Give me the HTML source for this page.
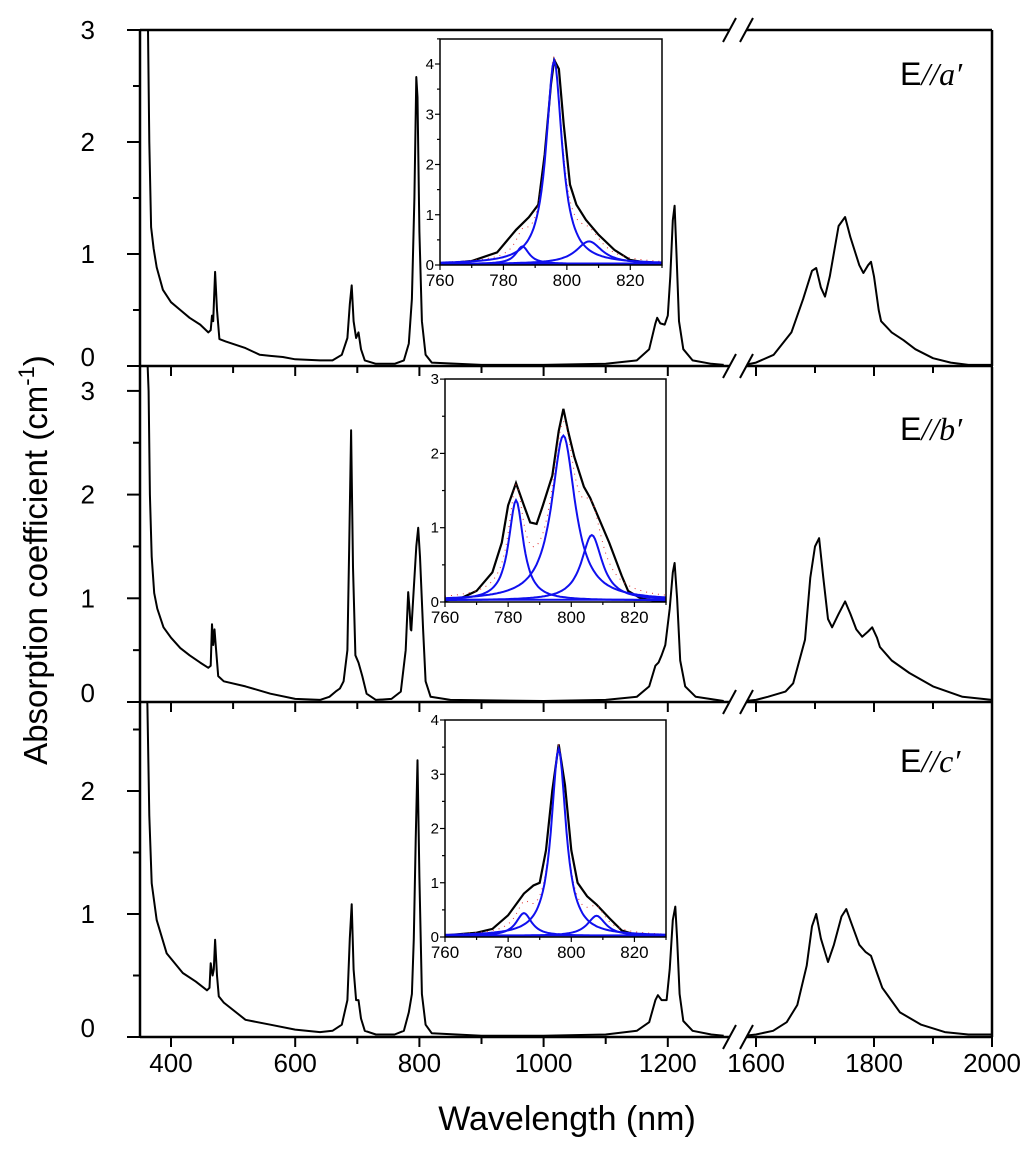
<!DOCTYPE html>
<html><head><meta charset="utf-8"><style>
html,body{margin:0;padding:0;background:#fff;}
svg{display:block;font-family:"Liberation Sans",Arial,sans-serif;}
</style></head><body>
<svg id="chart" width="1024" height="1151" viewBox="0 0 1024 1151" xmlns="http://www.w3.org/2000/svg"></svg>
<script>
// ---------- data ----------
const xTickLabelsLeft = [400, 600, 800, 1000, 1200];
const xTickLabelsRight = [1600, 1800, 2000];
const panelLabels = ["a′", "b′", "c′"];
const yMax = [3, 3.23, 2.72];
const yTickLabels = [[0,1,2,3],[0,1,2,3],[0,1,2]];

// Panel A (E//a')
const wlA = [356,360,363,365,368,372,377,387,400,415,430,447,460,464,466,468,471,474,478,488,520,543,560,580,600,640,660,675,684,688,691,694,698,702,706,712,730,760,775,783,788,792,795,797,800,804,810,820,900,1000,1100,1150,1170,1180,1183,1188,1195,1200,1204,1208,1211,1214,1218,1225,1240,1270,1290];
const absA = [3.5,3.2,3.0,2.0,1.24,1.05,0.88,0.68,0.57,0.5,0.43,0.37,0.3,0.32,0.45,0.4,0.84,0.5,0.24,0.22,0.16,0.1,0.09,0.08,0.06,0.05,0.05,0.1,0.25,0.55,0.72,0.4,0.25,0.3,0.15,0.05,0.02,0.02,0.05,0.2,0.6,1.5,2.58,2.4,1.2,0.4,0.1,0.03,0.01,0.01,0.02,0.05,0.15,0.38,0.43,0.38,0.37,0.45,0.8,1.3,1.43,1.0,0.4,0.15,0.05,0.02,0.01];
const wlA2 = [1581,1600,1630,1660,1680,1695,1702,1710,1717,1725,1740,1751,1760,1775,1782,1790,1795,1800,1808,1812,1830,1850,1870,1900,1930,1960,2000];
const absA2 = [0.01,0.03,0.1,0.3,0.6,0.85,0.875,0.7,0.62,0.8,1.25,1.33,1.15,0.9,0.83,0.9,0.93,0.8,0.5,0.4,0.3,0.23,0.15,0.07,0.03,0.01,0.01];

// Panel B (E//b')
const wlB = [358,362,364,366,369,373,378,388,400,415,430,447,460,464,466,468,470,472,476,485,520,560,600,640,655,665,672,678,684,687,690,693,697,702,708,715,730,755,770,778,782,784,786,787,790,795,798,801,806,810,818,850,1000,1100,1150,1170,1180,1185,1190,1196,1203,1208,1211,1215,1220,1228,1245,1290];
const absB = [3.6,3.3,3.0,2.0,1.4,1.05,0.9,0.72,0.62,0.52,0.45,0.38,0.33,0.35,0.75,0.55,0.7,0.55,0.25,0.2,0.15,0.08,0.03,0.02,0.05,0.1,0.13,0.2,0.5,1.5,2.62,1.3,0.45,0.38,0.25,0.08,0.02,0.03,0.1,0.5,1.06,0.9,0.7,0.69,1.0,1.5,1.68,1.4,0.7,0.2,0.05,0.02,0.01,0.02,0.05,0.15,0.35,0.38,0.45,0.55,0.9,1.25,1.34,1.0,0.4,0.15,0.05,0.01];
const wlB2 = [1581,1600,1620,1650,1663,1683,1692,1700,1707,1714,1722,1729,1740,1751,1760,1770,1780,1790,1797,1805,1810,1830,1860,1900,1950,2000];
const absB2 = [0.01,0.02,0.05,0.1,0.18,0.6,1.2,1.5,1.58,1.2,0.8,0.72,0.85,0.97,0.85,0.7,0.63,0.68,0.72,0.62,0.53,0.4,0.28,0.15,0.05,0.02];

// Panel C (E//c')
const wlC = [356,360,362,365,369,377,393,419,440,458,462,464,467,469,471,474,477,485,520,560,600,640,660,675,684,688,691,694,698,702,706,712,730,760,775,783,788,791,794,797,800,804,810,820,900,1000,1100,1150,1170,1180,1184,1190,1198,1203,1208,1212,1215,1219,1225,1240,1270,1290];
const absC = [3.2,2.9,2.7,1.8,1.25,0.95,0.68,0.52,0.45,0.38,0.4,0.6,0.5,0.55,0.79,0.5,0.33,0.28,0.14,0.1,0.06,0.04,0.05,0.1,0.3,0.8,1.08,0.55,0.3,0.3,0.15,0.05,0.02,0.02,0.05,0.2,0.35,0.8,1.6,2.25,1.3,0.35,0.1,0.03,0.01,0.01,0.02,0.05,0.12,0.3,0.34,0.3,0.3,0.55,0.95,1.06,0.8,0.35,0.13,0.05,0.02,0.01];
const wlC2 = [1581,1600,1629,1652,1670,1686,1695,1702,1710,1722,1732,1745,1753,1762,1775,1786,1795,1805,1814,1844,1880,1920,1960,2000];
const absC2 = [0.01,0.02,0.05,0.12,0.26,0.58,0.9,1.0,0.8,0.61,0.75,0.98,1.04,0.92,0.75,0.69,0.66,0.52,0.4,0.2,0.1,0.04,0.02,0.02];

// Insets: measured spectra
const inWlA = [760,770,778,784,788,791,793,795,796,797.5,799,801,803,806,810,815,820,825,830];
const inAbsA = [0.02,0.08,0.25,0.7,0.95,1.2,2.2,3.6,4.08,3.9,2.8,1.6,1.2,0.9,0.6,0.3,0.1,0.05,0.03];
const inWlB = [760,765,770,775,778,780,782.5,785,787,789,791,794,796,797.5,799,801,804,806,808,812,816,818,822,826,830];
const inAbsB = [0.02,0.05,0.15,0.4,0.8,1.3,1.6,1.3,1.07,1.05,1.3,1.7,2.3,2.6,2.3,1.95,1.55,1.4,1.2,0.8,0.35,0.15,0.05,0.02,0.02];
const inWlC = [760,770,775,780,785,788,790,792,794,796,798,800,802,805,808,812,816,820,830];
const inAbsC = [0.03,0.08,0.15,0.4,0.8,0.95,1.0,1.6,2.7,3.55,2.8,1.6,1.0,0.75,0.6,0.35,0.12,0.05,0.03];
// Insets: fitted Lorentzian components (center, height, half-width)
const fitCentersA = [786,796,807];
const fitHeightsA = [0.35,4.05,0.45];
const fitWidthsA = [2.5,3.0,5.0];
const fitCentersB = [782.5,797.5,806.5];
const fitHeightsB = [1.35,2.22,0.88];
const fitWidthsB = [2.8,4.5,4.0];
const fitCentersC = [785,796,808];
const fitHeightsC = [0.42,3.45,0.37];
const fitWidthsC = [3.0,2.8,3.5];
const insetXTicks = [760,780,800,820];

// ---------- layout ----------
const NS = "http://www.w3.org/2000/svg";
const svg = document.getElementById("chart");
function mk(tag, attrs, parent){ const e=document.createElementNS(NS,tag); for(const k in attrs) e.setAttribute(k,attrs[k]); (parent||svg).appendChild(e); return e; }
const X0=140, X1=992, BREAK_L=728, BREAK_R=748;
function xL(w){ return 171 + (w-400)*0.621; }
function xR(w){ return 756 + (w-1600)*0.59; }
const panels = [
  {top:30, zero:366, unit:112, wl:wlA, ab:absA, wl2:wlA2, ab2:absA2, ly:85,
   inset:{l:440,r:662,t:39,z:265,unit:50.25,ymax:4.5,ticks:[0,1,2,3,4],wl:inWlA,ab:inAbsA,c:fitCentersA,h:fitHeightsA,w:fitWidthsA}},
  {top:367, zero:702, unit:103.7, wl:wlB, ab:absB, wl2:wlB2, ab2:absB2, ly:440,
   inset:{l:445,r:666,t:379,z:602,unit:74.3,ymax:3,ticks:[0,1,2,3],wl:inWlB,ab:inAbsB,c:fitCentersB,h:fitHeightsB,w:fitWidthsB}},
  {top:702, zero:1037, unit:123, wl:wlC, ab:absC, wl2:wlC2, ab2:absC2, ly:772,
   inset:{l:445,r:666,t:720,z:937,unit:54.25,ymax:4,ticks:[0,1,2,3,4],wl:inWlC,ab:inAbsC,c:fitCentersC,h:fitHeightsC,w:fitWidthsC}}
];
const names=["a","b","c"];

panels.forEach((p,i)=>{
  const g = mk("g",{});
  
  
  const y = v => p.zero - v*p.unit;
  const cpL = mk("clipPath",{id:"clipL"+i}, g);
  mk("rect",{x:X0,y:p.top,width:BREAK_L-X0+4,height:p.zero-p.top},cpL);
  const cpR = mk("clipPath",{id:"clipR"+i}, g);
  mk("rect",{x:BREAK_R-2,y:p.top,width:X1-BREAK_R+2,height:p.zero-p.top},cpR);
  let d = p.wl.map((w,k)=>(k?"L":"M")+xL(w).toFixed(1)+","+y(p.ab[k]).toFixed(1)).join("");
  const s1 = mk("path",{d:d,fill:"none",stroke:"#000","stroke-width":2,"clip-path":"url(#clipL"+i+")","stroke-linejoin":"round"},g);
  
  
  d = p.wl2.map((w,k)=>(k?"L":"M")+xR(w).toFixed(1)+","+y(p.ab2[k]).toFixed(1)).join("");
  const s2 = mk("path",{d:d,fill:"none",stroke:"#000","stroke-width":2,"clip-path":"url(#clipR"+i+")","stroke-linejoin":"round"},g);
  
  
  const ym = yMax[i];
  for(let v=0; v<=ym+1e-6; v+=0.5){
    const major = Math.abs(v-Math.round(v))<1e-6;
    mk("line",{x1:X0-(major?13:7),x2:X0,y1:y(v),y2:y(v),stroke:"#000","stroke-width":2},g);
  }
  yTickLabels[i].forEach(v=>{
    const t = mk("text",{x:95,y:y(v)+(v===0?0:9),"text-anchor":"end","font-size":26},g);
    t.textContent = v;
    
    
  });
  for(let w=400; w<=1200; w+=100){
    const major = w%200===0;
    mk("line",{x1:xL(w),x2:xL(w),y1:p.zero,y2:p.zero+(major?10:7),stroke:"#000","stroke-width":2},g);
  }
  for(let w=1600; w<=2000; w+=100){
    const major = w%200===0;
    mk("line",{x1:xR(w),x2:xR(w),y1:p.zero,y2:p.zero+(major?10:7),stroke:"#000","stroke-width":2},g);
  }
  mk("line",{x1:X0,x2:X0,y1:p.top,y2:p.zero,stroke:"#000","stroke-width":2.5},g);
  mk("line",{x1:X1,x2:X1,y1:p.top,y2:p.zero,stroke:"#000","stroke-width":2.5},g);
  mk("line",{x1:X0,x2:X1,y1:p.zero,y2:p.zero,stroke:"#000","stroke-width":2.5},g);
  if(i===0) mk("line",{x1:X0,x2:X1,y1:p.top,y2:p.top,stroke:"#000","stroke-width":2.5},g);
  [p.zero, i===0?p.top:null].forEach(yy=>{
    if(yy===null) return;
    mk("rect",{x:BREAK_L+2,y:yy-3,width:BREAK_R-BREAK_L-3,height:6,fill:"#fff"},g);
    mk("line",{x1:BREAK_L-5,y1:yy+12,x2:BREAK_L+8,y2:yy-12,stroke:"#000","stroke-width":2},g);
    mk("line",{x1:BREAK_R-8,y1:yy+12,x2:BREAK_R+5,y2:yy-12,stroke:"#000","stroke-width":2},g);
  });
  const lt = mk("text",{x:900,y:p.ly,"font-size":32},g);
  
  
  const t1 = mk("tspan",{},lt); t1.textContent="E";
  const t2 = mk("tspan",{"font-style":"italic","font-family":"Liberation Serif, serif"},lt); t2.textContent="//"+panelLabels[i];

  // ---- inset ----
  const q = p.inset;
  const ig = mk("g",{},g);
  
  
  const ix = w => q.l + (w-760)*(q.r-q.l)/70;
  const iy = v => q.z - v*q.unit;
  mk("rect",{x:q.l,y:q.t,width:q.r-q.l,height:q.z-q.t,fill:"#fff",stroke:"none"},ig);
  const icp = mk("clipPath",{id:"iclip"+i},ig);
  mk("rect",{x:q.l,y:q.t,width:q.r-q.l,height:q.z-q.t},icp);
  const lor = (w,k)=> q.h[k]/(1+Math.pow((w-q.c[k])/q.w[k],2));
  let sumD="";
  for(let w=760; w<=830; w+=0.5){ let s=0.02; for(let k=0;k<q.c.length;k++) s+=lor(w,k); sumD+=(w===760?"M":"L")+ix(w).toFixed(1)+","+iy(s).toFixed(1); }
  const mp = q.wl.map((w,k)=>(k?"L":"M")+ix(w).toFixed(1)+","+iy(q.ab[k]).toFixed(1)).join("");
  const meas = mk("path",{d:mp,fill:"none",stroke:"#000","stroke-width":2.2,"clip-path":"url(#iclip"+i+")"},ig);
  
  
  const sp = mk("path",{d:sumD,fill:"none",stroke:"#e03030","stroke-width":1,"stroke-dasharray":"1 5","clip-path":"url(#iclip"+i+")"},ig);
  
  
  q.c.forEach((c,k)=>{
    let dd=""; for(let w=760; w<=830; w+=0.5){ dd+=(w===760?"M":"L")+ix(w).toFixed(1)+","+iy(lor(w,k)+0.02).toFixed(1); }
    const cpth = mk("path",{d:dd,fill:"none",stroke:"#1010ee","stroke-width":2,"clip-path":"url(#iclip"+i+")"},ig);
    
    
  });
  mk("line",{x1:q.l,x2:q.r,y1:iy(0.03),y2:iy(0.03),stroke:"#1010ee","stroke-width":2},ig);
  mk("rect",{x:q.l,y:q.t,width:q.r-q.l,height:q.z-q.t,fill:"none",stroke:"#000","stroke-width":1.5},ig);
  for(let v=0; v<=q.ymax+1e-6; v+=0.5){
    const major = Math.abs(v-Math.round(v))<1e-6;
    mk("line",{x1:q.l-(major?5:3),x2:q.l,y1:iy(v),y2:iy(v),stroke:"#000","stroke-width":1.2},ig);
  }
  q.ticks.forEach(v=>{
    const t = mk("text",{x:q.l-6,y:iy(v)+5,"text-anchor":"end","font-size":15},ig);
    t.textContent=v;
    
    
  });
  for(let w=760; w<=830; w+=10){
    mk("line",{x1:ix(w),x2:ix(w),y1:q.z,y2:q.z+(w%20===0?5:3),stroke:"#000","stroke-width":1.2},ig);
  }
  insetXTicks.forEach(w=>{
    const t = mk("text",{x:ix(w),y:q.z+21,"text-anchor":"middle","font-size":17},ig);
    t.textContent=w;
    
    
  });
});

xTickLabelsLeft.forEach(w=>{
  const t = mk("text",{x:xL(w),y:1072,"text-anchor":"middle","font-size":26});
  t.textContent=w;
  
  
});
xTickLabelsRight.forEach(w=>{
  const t = mk("text",{x:xR(w),y:1072,"text-anchor":"middle","font-size":26});
  t.textContent=w;
  
  
});
const xt = mk("text",{x:567,y:1130,"text-anchor":"middle","font-size":34});
xt.textContent="Wavelength (nm)";


const yt = mk("text",{x:0,y:0,"text-anchor":"middle","font-size":33,transform:"translate(47,560) rotate(-90)"});


const ya = mk("tspan",{},yt); ya.textContent="Absorption coefficient (cm";
const yb = mk("tspan",{"font-size":22,dy:-13},yt); yb.textContent="-1";
const yc = mk("tspan",{dy:13},yt); yc.textContent=")";
</script>
</body></html>
